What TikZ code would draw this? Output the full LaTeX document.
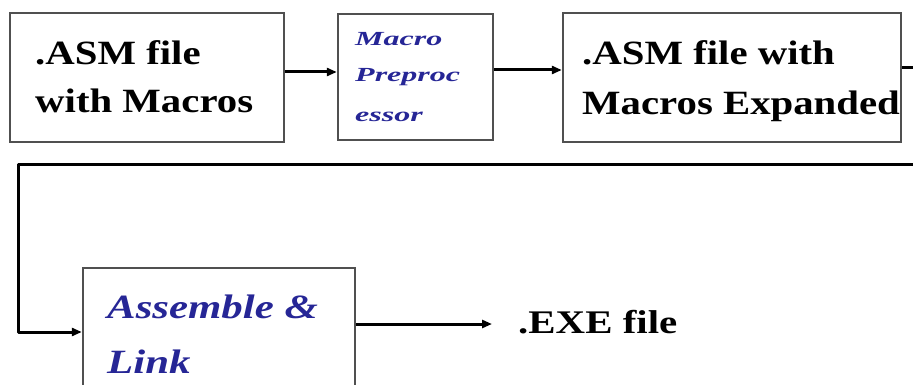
\documentclass[tikz,border=0pt]{standalone}
\usepackage{fontspec}
\setmainfont{Liberation Serif}
\usetikzlibrary{arrows.meta}
\definecolor{boxgray}{RGB}{80,80,80}
\definecolor{txtblue}{RGB}{38,38,150}
\tikzset{
  stagebox/.style={draw=boxgray, line width=2.4pt, fill=white, inner sep=0pt},
  lbl/.style={anchor=base west, inner sep=0pt},
  conn/.style={draw=black, line width=3pt},
  arr/.style={conn, -{Triangle[length=10pt,width=8pt]}},
}
\newcommand{\bigtxt}[1]{\scalebox{1.2}[1]{\fontsize{34}{34}\selectfont\bfseries #1}}
\newcommand{\smallblue}[1]{\scalebox{1.6}[1]{\fontsize{20}{20}\selectfont\bfseries\itshape\color{txtblue}#1}}
\newcommand{\bigblue}[1]{\scalebox{1.26}[1]{\fontsize{34}{34}\selectfont\bfseries\itshape\color{txtblue}#1}}
\begin{document}
\begin{tikzpicture}[x=1pt,y=-1pt]
\useasboundingbox (0,0) rectangle (913,385);
\clip (0,0) rectangle (913,385);
\fill[white] (0,0) rectangle (913,385);
% boxes
\node[stagebox, minimum width=274pt, minimum height=129pt] (box1) at (147,77.5) {};
\node[stagebox, minimum width=155pt, minimum height=126pt] (box2) at (415.5,77) {};
\node[stagebox, minimum width=338pt, minimum height=129pt] (box3) at (732,77.5) {};
\node[stagebox, minimum width=272pt, minimum height=130pt] (box4) at (219,333) {};
% texts
\node[lbl] (t1a) at (35,65) {\bigtxt{.ASM file}};
\node[lbl] (t1b) at (35,113) {\bigtxt{with Macros}};
\node[lbl] (t2a) at (355,46) {\smallblue{Macro}};
\node[lbl] (t2b) at (355,82) {\smallblue{Preproc}};
\node[lbl] (t2c) at (355,122) {\smallblue{essor}};
\node[lbl] (t3a) at (582,65) {\bigtxt{.ASM file with}};
\node[lbl] (t3b) at (582,115) {\bigtxt{Macros Expanded}};
\node[lbl] (t4a) at (107,318) {\bigblue{Assemble \&}};
\node[lbl] (t4b) at (107,373) {\bigblue{Link}};
\node[lbl] (exe) at (518,333) {\scalebox{1.24}[1]{\fontsize{33}{33}\selectfont\bfseries .EXE file}};
% connectors
\draw[arr] (box1.east |- 0,72) -- (box2.west |- 0,72);
\draw[arr] (box2.east |- 0,70) -- (box3.west |- 0,70);
\coordinate (r1) at (930,68);
\coordinate (r2) at (930,165);
\coordinate (l1) at (18,165);
\coordinate (l2) at (18,332);
\draw[arr, line join=round] (box3.east |- 0,68) -- (r1) -- (r2) -- (l1) -- (l2) -- (box4.west |- l2);
\coordinate (exein) at (492,324);
\draw[arr] (box4.east |- exein) -- (exein);
\end{tikzpicture}
\end{document}
